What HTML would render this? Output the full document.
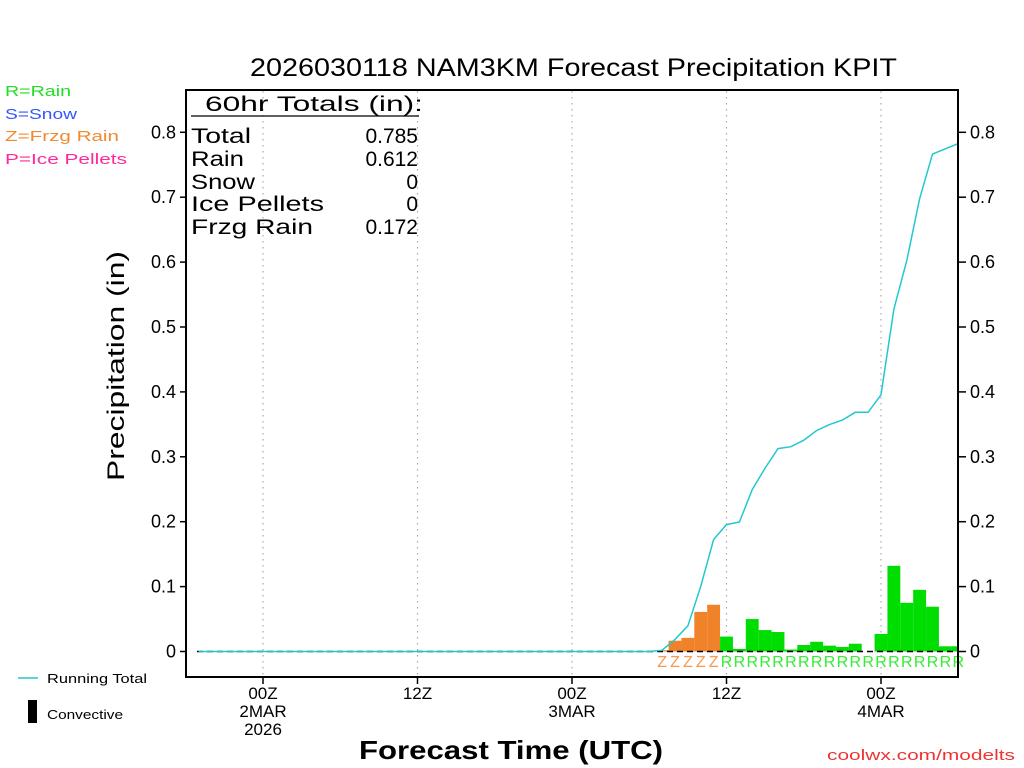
<!DOCTYPE html>
<html><head><meta charset="utf-8"><style>
html,body{margin:0;padding:0;background:#fff;}
svg{display:block;font-family:"Liberation Sans",sans-serif;}
</style></head><body>
<svg id="chart" width="1024" height="768" viewBox="0 0 1024 768" xmlns="http://www.w3.org/2000/svg">
<rect x="0" y="0" width="1024" height="768" fill="#fff"/>
<text x="250" y="76" font-size="25" textLength="647" lengthAdjust="spacingAndGlyphs" fill="#000">2026030118 NAM3KM Forecast Precipitation KPIT</text>
<g font-size="15">
<text x="5" y="96" fill="#22dd22" textLength="66" lengthAdjust="spacingAndGlyphs">R=Rain</text>
<text x="5" y="119" fill="#3355ff" textLength="72" lengthAdjust="spacingAndGlyphs">S=Snow</text>
<text x="5" y="141" fill="#f08a30" textLength="114" lengthAdjust="spacingAndGlyphs">Z=Frzg Rain</text>
<text x="5" y="164" fill="#ff2a9a" textLength="122" lengthAdjust="spacingAndGlyphs">P=Ice Pellets</text>
</g>
<g id="grid"></g>
<g id="bars"></g>
<line x1="197" y1="651.5" x2="958" y2="651.5" stroke="#000" stroke-width="1.5" stroke-dasharray="6,4"/>
<polyline id="runline" fill="none" stroke="#22c8d0" stroke-width="1.5"/>
<g id="ylabels" font-size="18"></g>
<g id="xlabels" font-size="17"></g>
<g id="ptlabels" font-size="16"></g>
<rect x="186" y="90" width="772" height="587" fill="none" stroke="#000" stroke-width="2"/>
<g font-size="21" fill="#000" font-weight="300">
<text x="205" y="111" textLength="218" lengthAdjust="spacingAndGlyphs">60hr Totals (in):</text>
<line x1="191" y1="116" x2="419" y2="116" stroke="#000" stroke-width="1.2"/>
<text x="191" y="143" textLength="60" lengthAdjust="spacingAndGlyphs">Total</text><text x="418" y="143" text-anchor="end">0.785</text>
<text x="191" y="166" textLength="53" lengthAdjust="spacingAndGlyphs">Rain</text><text x="418" y="166" text-anchor="end">0.612</text>
<text x="191" y="189" textLength="64" lengthAdjust="spacingAndGlyphs">Snow</text><text x="418" y="189" text-anchor="end">0</text>
<text x="191" y="211" textLength="133" lengthAdjust="spacingAndGlyphs">Ice Pellets</text><text x="418" y="211" text-anchor="end">0</text>
<text x="191" y="234" textLength="122" lengthAdjust="spacingAndGlyphs">Frzg Rain</text><text x="418" y="234" text-anchor="end">0.172</text>
</g>
<text transform="translate(124,366) rotate(-90)" text-anchor="middle" font-size="24" textLength="230" lengthAdjust="spacingAndGlyphs">Precipitation (in)</text>
<text x="511" y="759" text-anchor="middle" font-size="26" font-weight="bold" textLength="304" lengthAdjust="spacingAndGlyphs">Forecast Time (UTC)</text>
<g font-size="13">
<line x1="18" y1="678" x2="38" y2="678" stroke="#22c8d0" stroke-width="1.5"/>
<text x="47" y="683" textLength="100" lengthAdjust="spacingAndGlyphs">Running Total</text>
<rect x="28" y="700" width="9" height="23" fill="#000"/>
<text x="47" y="719" textLength="76" lengthAdjust="spacingAndGlyphs">Convective</text>
</g>
<text x="1015" y="760" text-anchor="end" font-size="15" fill="#ee3333" textLength="188" lengthAdjust="spacingAndGlyphs">coolwx.com/modelts</text>
<script>
const hours=[31,32,33,34,35,36,37,38,39,40,41,42,43,44,45,46,47,48,49,50,51,52,53,54];
const precip=[0.002,0.0166,0.021,0.061,0.072,0.023,0.004,0.050,0.033,0.030,0.003,0.010,0.015,0.009,0.007,0.012,0,0.027,0.132,0.075,0.095,0.069,0.008,0.008];
const ptype=["Z","Z","Z","Z","Z","R","R","R","R","R","R","R","R","R","R","R","R","R","R","R","R","R","R","R"];
const yTicks=[0,0.1,0.2,0.3,0.4,0.5,0.6,0.7,0.8];
const yTickLabels=["0","0.1","0.2","0.3","0.4","0.5","0.6","0.7","0.8"];
const xTickHours=[0,12,24,36,48];
const xTickLabels=[["00Z","2MAR","2026"],["12Z"],["00Z","3MAR"],["12Z"],["00Z","4MAR"]];
const lineStartHour=-5;
const NS="http://www.w3.org/2000/svg";
const xs=h=>263+h*12.875;
const ys=v=>651.5-v*649;
const clipR=958;
const colors={Z:"#f0822a",R:"#00dd00"};
function mk(t,a,parent){const e=document.createElementNS(NS,t);for(const k in a)e.setAttribute(k,a[k]);parent.appendChild(e);return e;}
const grid=document.getElementById('grid'),bars=document.getElementById('bars'),yl=document.getElementById('ylabels'),xl=document.getElementById('xlabels'),pl=document.getElementById('ptlabels');
xTickHours.forEach((h,i)=>{
 const g=mk('line',{x1:xs(h),x2:xs(h),y1:91,y2:676,stroke:'#aaa','stroke-width':1.2,'stroke-dasharray':'1.5,4.5'},grid);
 
 
 mk('line',{x1:xs(h),x2:xs(h),y1:677,y2:684,stroke:'#000','stroke-width':1.5},xl);
 xTickLabels[i].forEach((s,j)=>{const t=mk('text',{x:xs(h),y:699+j*18,'text-anchor':'middle'},xl);t.textContent=s;
 
 });
});
yTicks.forEach((v,i)=>{
 const y=ys(v);
 mk('line',{x1:180,x2:186,y1:y,y2:y,stroke:'#000','stroke-width':1.5},yl);
 mk('line',{x1:958,x2:966,y1:y,y2:y,stroke:'#000','stroke-width':1.5},yl);
 const a=mk('text',{x:176,y:y+6,'text-anchor':'end'},yl);a.textContent=yTickLabels[i];
 
 
 const b=mk('text',{x:970,y:y+6},yl);b.textContent=yTickLabels[i];
 
 
});
hours.forEach((h,i)=>{
 const x0=xs(h-0.5),x1=Math.min(xs(h+0.5),clipR);
 if(precip[i]>0){const r=mk('rect',{x:x0,y:ys(precip[i]),width:x1-x0,height:ys(0)-ys(precip[i]),fill:colors[ptype[i]]},bars);
 
 }
 const t=mk('text',{x:xs(h),y:667,'text-anchor':'middle',fill:ptype[i]==='Z'?'#f59a50':'#33ee33'},pl);t.textContent=ptype[i];
 
 
});
let pts=[],cum=0;
for(let h=lineStartHour;h<=54;h++){const i=hours.indexOf(h);if(i>=0)cum+=precip[i];pts.push(xs(h).toFixed(1)+','+ys(cum).toFixed(1));}
document.getElementById('runline').setAttribute('points',pts.join(' '));
</script>
</svg>
</body></html>
